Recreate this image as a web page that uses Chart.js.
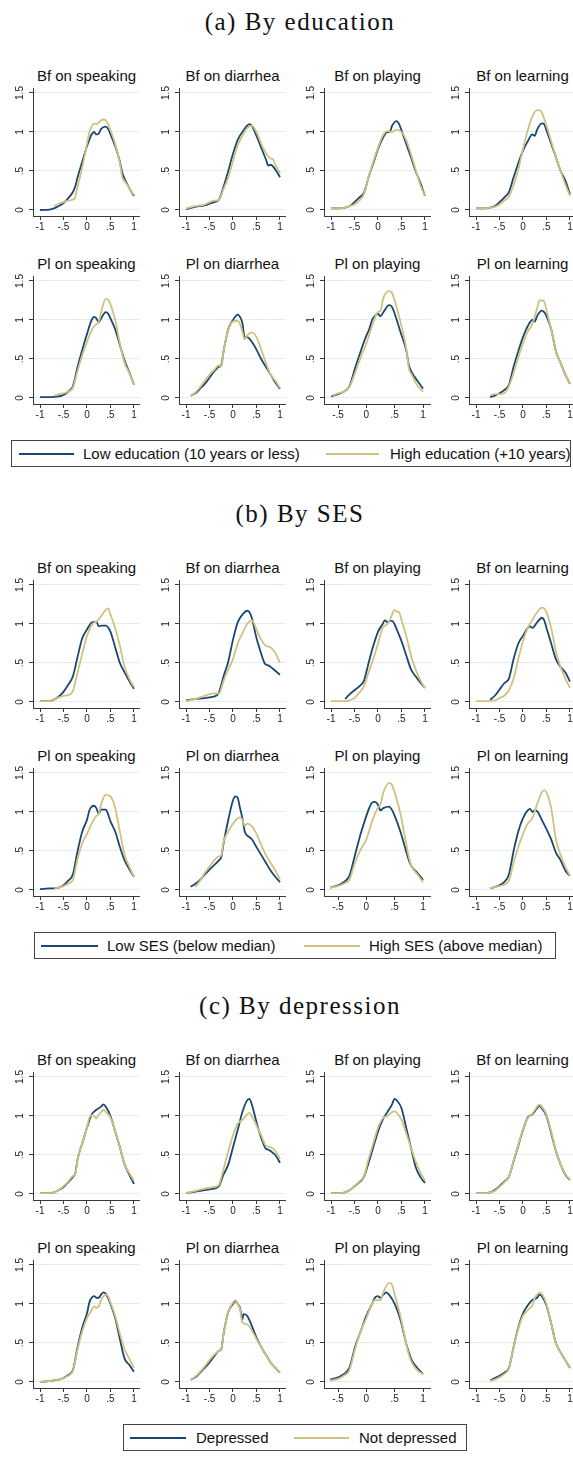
<!DOCTYPE html>
<html>
<head>
<meta charset="utf-8">
<script src="https://cdn.jsdelivr.net/npm/chart.js@4.4.0/dist/chart.umd.min.js"></script>
<style>
  html, body { margin: 0; padding: 0; background: #fff; }
  body { position: relative; width: 573px; height: 1477px; overflow: hidden; font-family: "Liberation Sans", Arial, sans-serif; }
  .sec-title { position: absolute; left: 0; width: 600px; text-align: center; font-family: "Liberation Serif", serif; font-size: 25px; line-height: 26px; letter-spacing: 1.5px; color: #111; }
  .sub-title { position: absolute; width: 107px; text-align: center; font-size: 15px; line-height: 16px; color: #111; white-space: nowrap; }
  canvas.sub { position: absolute; }
  .legend { position: absolute; height: 27px; border: 1px solid #444; box-sizing: border-box; background: #fff; }
  .legend .ln { position: absolute; top: 12px; height: 2px; }
  .legend .tx { position: absolute; top: 4px; font-size: 15px; line-height: 17px; color: #111; white-space: nowrap; }
</style>
</head>
<body>
<script>
// ---- data ----
const panelTitles = ["(a) By education", "(b) By SES", "(c) By depression"];
const outcomes = ["Bf on speaking", "Bf on diarrhea", "Bf on playing", "Bf on learning",
                  "Pl on speaking", "Pl on diarrhea", "Pl on playing", "Pl on learning"];
const legendLabels = [
  ["Low education (10 years or less)", "High education (+10 years)"],
  ["Low SES (below median)", "High SES (above median)"],
  ["Depressed", "Not depressed"]
];
const xTicksFull = [-1, -0.5, 0, 0.5, 1];
const xTicksShort = [-0.5, 0, 0.5, 1];
const xTickSets = [xTicksFull, xTicksFull, xTicksFull, xTicksFull, xTicksFull, xTicksFull, xTicksShort, xTicksFull];
const yTicks = [0, 0.5, 1, 1.5];

const eduLow = [
  [[-1,0],[-0.8,0.005],[-0.7,0.02],[-0.6,0.05],[-0.5,0.09],[-0.4,0.15],[-0.3,0.23],[-0.25,0.3],[-0.2,0.42],[-0.1,0.62],[0,0.82],[0.05,0.9],[0.1,0.97],[0.15,1.0],[0.2,0.97],[0.25,0.98],[0.3,1.04],[0.4,1.07],[0.45,1.04],[0.5,0.97],[0.6,0.82],[0.7,0.62],[0.75,0.48],[0.8,0.4],[0.9,0.28],[1,0.18]],
  [[-1,0.01],[-0.8,0.04],[-0.6,0.06],[-0.5,0.08],[-0.4,0.1],[-0.3,0.13],[-0.2,0.3],[-0.1,0.5],[0,0.72],[0.1,0.9],[0.2,1.0],[0.3,1.08],[0.35,1.1],[0.4,1.08],[0.5,0.95],[0.6,0.8],[0.7,0.65],[0.75,0.57],[0.8,0.58],[0.9,0.52],[1,0.42]],
  [[-1,0.02],[-0.8,0.02],[-0.7,0.03],[-0.6,0.05],[-0.5,0.1],[-0.4,0.16],[-0.3,0.22],[-0.2,0.42],[-0.1,0.6],[0,0.78],[0.1,0.92],[0.2,1.0],[0.25,1.0],[0.3,1.08],[0.4,1.14],[0.45,1.1],[0.5,1.02],[0.6,0.85],[0.7,0.68],[0.8,0.5],[0.9,0.35],[1,0.18]],
  [[-1,0.02],[-0.8,0.02],[-0.7,0.03],[-0.6,0.05],[-0.5,0.1],[-0.4,0.16],[-0.3,0.23],[-0.2,0.42],[-0.1,0.6],[0,0.76],[0.1,0.88],[0.2,0.97],[0.25,0.95],[0.3,1.03],[0.4,1.11],[0.45,1.1],[0.5,1.02],[0.6,0.85],[0.7,0.68],[0.8,0.5],[0.9,0.38],[1,0.2]],
  [[-1,0.01],[-0.8,0.01],[-0.6,0.02],[-0.5,0.04],[-0.4,0.08],[-0.3,0.15],[-0.2,0.4],[-0.1,0.62],[0,0.82],[0.1,1.0],[0.15,1.04],[0.2,1.02],[0.25,0.97],[0.3,1.02],[0.4,1.1],[0.45,1.08],[0.5,1.02],[0.6,0.88],[0.7,0.68],[0.8,0.48],[0.9,0.33],[1,0.17]],
  [[-0.9,0.03],[-0.8,0.06],[-0.7,0.12],[-0.6,0.18],[-0.5,0.26],[-0.4,0.34],[-0.3,0.4],[-0.25,0.42],[-0.2,0.6],[-0.1,0.88],[0,1.0],[0.1,1.07],[0.15,1.04],[0.2,0.96],[0.25,0.78],[0.3,0.78],[0.4,0.72],[0.5,0.62],[0.6,0.5],[0.7,0.4],[0.8,0.3],[0.9,0.2],[1,0.12]],
  [[-0.62,0.02],[-0.5,0.05],[-0.4,0.08],[-0.3,0.15],[-0.2,0.38],[-0.1,0.6],[0,0.8],[0.05,0.88],[0.1,1.0],[0.15,1.05],[0.2,1.08],[0.25,1.05],[0.3,1.1],[0.4,1.19],[0.45,1.17],[0.5,1.08],[0.6,0.85],[0.7,0.62],[0.75,0.42],[0.8,0.33],[0.9,0.22],[1,0.12]],
  [[-0.7,0.01],[-0.6,0.03],[-0.5,0.06],[-0.4,0.1],[-0.3,0.17],[-0.2,0.4],[-0.1,0.6],[0,0.78],[0.1,0.92],[0.2,1.0],[0.25,0.98],[0.3,1.05],[0.4,1.12],[0.45,1.1],[0.5,1.05],[0.6,0.88],[0.7,0.6],[0.8,0.45],[0.9,0.3],[1,0.18]]
];
const eduHigh = [
  [[-0.7,0.05],[-0.6,0.08],[-0.5,0.1],[-0.4,0.12],[-0.27,0.14],[-0.2,0.3],[-0.1,0.55],[0,0.85],[0.05,1.0],[0.1,1.07],[0.15,1.11],[0.2,1.1],[0.25,1.12],[0.3,1.15],[0.35,1.16],[0.4,1.15],[0.45,1.1],[0.5,1.02],[0.6,0.85],[0.7,0.6],[0.75,0.42],[0.8,0.37],[0.9,0.28],[1,0.19]],
  [[-1,0.02],[-0.8,0.05],[-0.6,0.07],[-0.5,0.1],[-0.4,0.12],[-0.3,0.13],[-0.2,0.27],[-0.1,0.42],[0,0.63],[0.1,0.83],[0.2,0.95],[0.3,1.05],[0.4,1.08],[0.5,1.0],[0.6,0.85],[0.7,0.73],[0.8,0.66],[0.85,0.65],[0.9,0.58],[1,0.47]],
  [[-1,0.02],[-0.8,0.02],[-0.7,0.03],[-0.6,0.05],[-0.5,0.07],[-0.4,0.12],[-0.3,0.2],[-0.2,0.42],[-0.1,0.62],[0,0.8],[0.1,0.95],[0.2,1.01],[0.3,1.0],[0.4,1.03],[0.5,1.0],[0.6,0.9],[0.7,0.72],[0.8,0.52],[0.9,0.32],[1,0.18]],
  [[-1,0.02],[-0.8,0.02],[-0.7,0.03],[-0.6,0.04],[-0.5,0.07],[-0.4,0.12],[-0.3,0.17],[-0.2,0.32],[-0.1,0.52],[0,0.78],[0.1,1.02],[0.2,1.2],[0.3,1.28],[0.35,1.28],[0.4,1.25],[0.5,1.08],[0.6,0.88],[0.7,0.68],[0.8,0.5],[0.9,0.33],[1,0.18]],
  [[-0.7,0.03],[-0.6,0.05],[-0.5,0.06],[-0.4,0.08],[-0.3,0.13],[-0.2,0.35],[-0.1,0.55],[0,0.72],[0.1,0.87],[0.2,0.95],[0.25,0.97],[0.3,1.1],[0.4,1.27],[0.45,1.26],[0.5,1.2],[0.6,1.0],[0.7,0.7],[0.8,0.45],[0.9,0.32],[1,0.17]],
  [[-0.9,0.03],[-0.8,0.07],[-0.7,0.14],[-0.6,0.22],[-0.5,0.3],[-0.4,0.36],[-0.3,0.42],[-0.25,0.4],[-0.2,0.6],[-0.1,0.87],[0,0.98],[0.1,0.99],[0.15,0.95],[0.2,0.85],[0.25,0.75],[0.3,0.8],[0.4,0.84],[0.5,0.78],[0.6,0.62],[0.7,0.45],[0.8,0.3],[0.9,0.22],[1,0.13]],
  [[-0.6,0.03],[-0.5,0.06],[-0.4,0.08],[-0.3,0.14],[-0.2,0.32],[-0.1,0.52],[0,0.7],[0.1,0.92],[0.2,1.1],[0.25,1.12],[0.3,1.28],[0.4,1.37],[0.45,1.35],[0.5,1.25],[0.6,0.98],[0.7,0.65],[0.75,0.38],[0.8,0.3],[0.9,0.16],[1,0.08]],
  [[-0.7,0.03],[-0.6,0.05],[-0.5,0.05],[-0.4,0.06],[-0.3,0.15],[-0.2,0.32],[-0.1,0.52],[0,0.7],[0.1,0.85],[0.2,0.95],[0.3,1.15],[0.35,1.25],[0.4,1.25],[0.45,1.24],[0.5,1.12],[0.6,0.88],[0.7,0.6],[0.8,0.45],[0.9,0.3],[1,0.18]]
];
const sesLow = [
  [[-1,0.01],[-0.8,0.01],[-0.7,0.03],[-0.6,0.07],[-0.5,0.13],[-0.4,0.22],[-0.3,0.33],[-0.2,0.58],[-0.1,0.82],[0,0.93],[0.1,1.02],[0.2,1.03],[0.25,0.97],[0.3,0.98],[0.4,0.98],[0.5,0.9],[0.6,0.7],[0.7,0.5],[0.8,0.38],[0.9,0.27],[1,0.17]],
  [[-1,0.02],[-0.8,0.04],[-0.6,0.05],[-0.5,0.06],[-0.4,0.07],[-0.3,0.12],[-0.2,0.33],[-0.1,0.52],[0,0.8],[0.1,1.02],[0.2,1.12],[0.3,1.17],[0.35,1.15],[0.4,1.08],[0.5,0.82],[0.6,0.62],[0.67,0.5],[0.7,0.48],[0.75,0.47],[0.8,0.45],[0.9,0.4],[1,0.35]],
  [[-0.7,0.04],[-0.6,0.1],[-0.5,0.15],[-0.4,0.2],[-0.3,0.27],[-0.2,0.5],[-0.1,0.72],[0,0.9],[0.1,1.0],[0.15,1.05],[0.2,1.02],[0.25,1.04],[0.3,1.04],[0.35,1.0],[0.4,0.93],[0.5,0.78],[0.6,0.6],[0.7,0.42],[0.8,0.33],[0.9,0.25],[1,0.18]],
  [[-0.7,0.03],[-0.6,0.08],[-0.5,0.16],[-0.4,0.24],[-0.3,0.3],[-0.2,0.55],[-0.1,0.75],[0,0.85],[0.1,0.95],[0.15,0.97],[0.2,0.95],[0.3,1.02],[0.4,1.08],[0.45,1.05],[0.5,0.95],[0.6,0.75],[0.7,0.55],[0.8,0.45],[0.9,0.38],[1,0.26]],
  [[-1,0.01],[-0.8,0.02],[-0.7,0.02],[-0.6,0.03],[-0.5,0.06],[-0.4,0.12],[-0.3,0.2],[-0.2,0.5],[-0.1,0.75],[0,0.9],[0.05,1.02],[0.1,1.07],[0.15,1.08],[0.2,1.05],[0.25,0.98],[0.3,1.03],[0.4,1.03],[0.45,0.97],[0.5,0.88],[0.6,0.75],[0.7,0.55],[0.8,0.38],[0.9,0.27],[1,0.17]],
  [[-0.9,0.04],[-0.8,0.08],[-0.7,0.13],[-0.6,0.2],[-0.5,0.26],[-0.4,0.32],[-0.3,0.38],[-0.25,0.42],[-0.2,0.6],[-0.1,0.9],[0,1.15],[0.05,1.2],[0.1,1.18],[0.15,1.05],[0.2,0.92],[0.25,0.75],[0.3,0.7],[0.4,0.65],[0.5,0.55],[0.6,0.45],[0.7,0.35],[0.8,0.25],[0.9,0.17],[1,0.1]],
  [[-0.64,0.03],[-0.5,0.06],[-0.4,0.1],[-0.3,0.18],[-0.2,0.45],[-0.1,0.72],[0,0.95],[0.05,1.05],[0.1,1.12],[0.15,1.13],[0.2,1.1],[0.25,1.02],[0.3,1.05],[0.4,1.07],[0.45,1.03],[0.5,0.95],[0.6,0.75],[0.7,0.5],[0.75,0.38],[0.8,0.3],[0.9,0.22],[1,0.13]],
  [[-0.7,0.02],[-0.6,0.04],[-0.5,0.06],[-0.4,0.1],[-0.3,0.2],[-0.2,0.5],[-0.1,0.75],[0,0.92],[0.1,1.02],[0.15,1.04],[0.2,1.0],[0.25,1.02],[0.3,1.01],[0.4,0.9],[0.5,0.78],[0.6,0.65],[0.7,0.48],[0.8,0.38],[0.9,0.25],[1,0.18]]
];
const sesHigh = [
  [[-1,0.01],[-0.8,0.01],[-0.7,0.03],[-0.6,0.06],[-0.5,0.08],[-0.4,0.09],[-0.3,0.14],[-0.2,0.38],[-0.1,0.62],[0,0.85],[0.1,0.98],[0.15,1.02],[0.2,1.03],[0.3,1.1],[0.4,1.18],[0.45,1.2],[0.5,1.12],[0.6,0.95],[0.7,0.72],[0.8,0.45],[0.9,0.3],[1,0.19]],
  [[-1,0.01],[-0.8,0.04],[-0.6,0.08],[-0.5,0.1],[-0.4,0.11],[-0.3,0.11],[-0.2,0.27],[-0.1,0.42],[0,0.55],[0.1,0.75],[0.2,0.88],[0.3,1.0],[0.4,1.05],[0.5,0.93],[0.6,0.8],[0.7,0.72],[0.8,0.7],[0.9,0.63],[1,0.5]],
  [[-1,0.01],[-0.8,0.01],[-0.7,0.01],[-0.6,0.02],[-0.5,0.05],[-0.4,0.12],[-0.3,0.2],[-0.2,0.38],[-0.1,0.55],[0,0.75],[0.1,0.95],[0.2,1.0],[0.25,1.05],[0.3,1.12],[0.35,1.18],[0.4,1.16],[0.45,1.15],[0.5,1.05],[0.6,0.85],[0.7,0.6],[0.8,0.42],[0.9,0.28],[1,0.18]],
  [[-1,0.01],[-0.8,0.01],[-0.6,0.02],[-0.5,0.05],[-0.4,0.08],[-0.3,0.15],[-0.2,0.3],[-0.1,0.55],[0,0.78],[0.1,0.95],[0.2,1.05],[0.3,1.15],[0.4,1.21],[0.45,1.2],[0.5,1.15],[0.6,0.95],[0.7,0.65],[0.8,0.45],[0.9,0.3],[1,0.18]],
  [[-0.7,0.02],[-0.6,0.03],[-0.5,0.05],[-0.4,0.08],[-0.3,0.13],[-0.2,0.4],[-0.1,0.6],[0,0.72],[0.1,0.85],[0.2,0.95],[0.25,0.97],[0.3,1.1],[0.4,1.22],[0.5,1.2],[0.6,1.05],[0.7,0.75],[0.8,0.45],[0.9,0.3],[1,0.17]],
  [[-0.8,0.04],[-0.7,0.12],[-0.6,0.22],[-0.5,0.3],[-0.4,0.38],[-0.3,0.43],[-0.25,0.44],[-0.2,0.62],[-0.1,0.75],[0,0.85],[0.1,0.92],[0.15,0.93],[0.2,0.9],[0.25,0.82],[0.3,0.85],[0.4,0.82],[0.5,0.72],[0.6,0.58],[0.7,0.45],[0.8,0.35],[0.9,0.25],[1,0.14]],
  [[-0.64,0.03],[-0.5,0.05],[-0.4,0.08],[-0.3,0.13],[-0.2,0.35],[-0.1,0.52],[0,0.65],[0.1,0.88],[0.2,1.05],[0.25,1.1],[0.3,1.25],[0.4,1.37],[0.45,1.35],[0.5,1.25],[0.6,0.98],[0.7,0.6],[0.75,0.42],[0.8,0.3],[0.9,0.2],[1,0.1]],
  [[-0.7,0.02],[-0.6,0.04],[-0.5,0.05],[-0.4,0.07],[-0.3,0.12],[-0.2,0.35],[-0.1,0.55],[0,0.72],[0.1,0.85],[0.2,0.92],[0.3,1.1],[0.4,1.25],[0.45,1.28],[0.5,1.25],[0.6,1.05],[0.7,0.65],[0.8,0.45],[0.9,0.3],[1,0.18]]
];
const depYes = [
  [[-1,0.01],[-0.8,0.01],[-0.7,0.02],[-0.6,0.05],[-0.5,0.09],[-0.4,0.15],[-0.3,0.22],[-0.25,0.26],[-0.2,0.45],[-0.1,0.65],[0,0.85],[0.1,1.02],[0.2,1.08],[0.3,1.12],[0.35,1.15],[0.4,1.12],[0.5,1.0],[0.6,0.8],[0.7,0.6],[0.8,0.38],[0.9,0.25],[1,0.13]],
  [[-1,0.01],[-0.8,0.03],[-0.6,0.05],[-0.5,0.06],[-0.4,0.07],[-0.3,0.1],[-0.2,0.25],[-0.1,0.38],[0,0.6],[0.1,0.82],[0.2,1.05],[0.3,1.2],[0.35,1.22],[0.4,1.15],[0.5,0.92],[0.6,0.72],[0.7,0.58],[0.75,0.57],[0.8,0.55],[0.9,0.5],[1,0.4]],
  [[-1,0.01],[-0.8,0.01],[-0.7,0.02],[-0.6,0.05],[-0.5,0.1],[-0.4,0.15],[-0.3,0.22],[-0.2,0.4],[-0.1,0.6],[0,0.8],[0.1,0.95],[0.2,1.05],[0.3,1.15],[0.35,1.22],[0.4,1.2],[0.5,1.1],[0.6,0.85],[0.7,0.6],[0.8,0.35],[0.9,0.22],[1,0.14]],
  [[-1,0.01],[-0.8,0.01],[-0.7,0.02],[-0.6,0.05],[-0.5,0.1],[-0.4,0.16],[-0.3,0.22],[-0.2,0.42],[-0.1,0.62],[0,0.82],[0.1,0.98],[0.2,1.02],[0.3,1.1],[0.35,1.13],[0.4,1.1],[0.5,1.0],[0.6,0.78],[0.7,0.55],[0.8,0.38],[0.9,0.25],[1,0.18]],
  [[-1,0.0],[-0.8,0.01],[-0.7,0.02],[-0.6,0.03],[-0.5,0.05],[-0.4,0.09],[-0.3,0.15],[-0.2,0.45],[-0.1,0.7],[0,0.88],[0.05,1.02],[0.1,1.08],[0.15,1.1],[0.2,1.08],[0.25,1.08],[0.3,1.12],[0.35,1.15],[0.4,1.13],[0.5,1.0],[0.6,0.82],[0.7,0.55],[0.8,0.3],[0.9,0.22],[1,0.13]],
  [[-0.9,0.03],[-0.8,0.06],[-0.7,0.12],[-0.6,0.18],[-0.5,0.25],[-0.4,0.33],[-0.3,0.4],[-0.25,0.42],[-0.2,0.62],[-0.1,0.9],[0,1.0],[0.05,1.04],[0.1,1.0],[0.15,0.95],[0.2,0.8],[0.22,0.87],[0.3,0.85],[0.4,0.72],[0.5,0.57],[0.6,0.45],[0.7,0.35],[0.8,0.25],[0.9,0.18],[1,0.12]],
  [[-0.64,0.03],[-0.5,0.06],[-0.4,0.1],[-0.3,0.18],[-0.2,0.45],[-0.1,0.65],[0,0.85],[0.1,1.0],[0.15,1.08],[0.2,1.1],[0.25,1.08],[0.3,1.12],[0.35,1.15],[0.4,1.12],[0.5,1.0],[0.6,0.8],[0.7,0.5],[0.75,0.38],[0.8,0.28],[0.9,0.18],[1,0.1]],
  [[-0.7,0.02],[-0.6,0.05],[-0.5,0.08],[-0.4,0.12],[-0.3,0.18],[-0.2,0.45],[-0.1,0.7],[0,0.88],[0.1,0.98],[0.15,1.02],[0.2,1.05],[0.3,1.08],[0.35,1.12],[0.4,1.1],[0.5,0.98],[0.6,0.75],[0.7,0.5],[0.8,0.38],[0.9,0.28],[1,0.18]]
];
const depNo = [
  [[-1,0.01],[-0.8,0.01],[-0.7,0.02],[-0.6,0.05],[-0.5,0.1],[-0.4,0.16],[-0.3,0.23],[-0.25,0.25],[-0.2,0.45],[-0.1,0.65],[0,0.85],[0.05,0.98],[0.1,1.01],[0.15,1.0],[0.2,0.97],[0.25,1.02],[0.3,1.05],[0.35,1.08],[0.4,1.05],[0.5,0.98],[0.6,0.8],[0.7,0.6],[0.8,0.38],[0.9,0.27],[1,0.17]],
  [[-1,0.01],[-0.8,0.04],[-0.6,0.07],[-0.5,0.08],[-0.4,0.09],[-0.3,0.12],[-0.2,0.32],[-0.1,0.55],[0,0.75],[0.1,0.9],[0.15,0.93],[0.2,0.95],[0.3,1.02],[0.35,1.04],[0.4,1.0],[0.5,0.88],[0.6,0.75],[0.7,0.62],[0.8,0.6],[0.9,0.55],[1,0.45]],
  [[-1,0.01],[-0.8,0.01],[-0.7,0.02],[-0.6,0.05],[-0.5,0.1],[-0.4,0.16],[-0.3,0.23],[-0.2,0.45],[-0.1,0.65],[0,0.85],[0.1,0.97],[0.2,1.0],[0.3,1.05],[0.35,1.06],[0.4,1.04],[0.5,0.95],[0.6,0.78],[0.7,0.6],[0.8,0.42],[0.9,0.28],[1,0.17]],
  [[-1,0.01],[-0.8,0.01],[-0.7,0.02],[-0.6,0.04],[-0.5,0.09],[-0.4,0.15],[-0.3,0.22],[-0.2,0.43],[-0.1,0.63],[0,0.83],[0.1,0.97],[0.2,1.03],[0.3,1.12],[0.35,1.15],[0.4,1.12],[0.5,1.02],[0.6,0.8],[0.7,0.56],[0.8,0.38],[0.9,0.26],[1,0.18]],
  [[-1,0.0],[-0.8,0.01],[-0.7,0.02],[-0.6,0.03],[-0.5,0.05],[-0.4,0.08],[-0.3,0.14],[-0.2,0.42],[-0.1,0.65],[0,0.82],[0.1,0.92],[0.15,0.97],[0.2,0.95],[0.25,0.97],[0.3,1.05],[0.4,1.12],[0.45,1.1],[0.5,1.02],[0.6,0.85],[0.7,0.62],[0.8,0.42],[0.9,0.3],[1,0.18]],
  [[-0.9,0.03],[-0.8,0.07],[-0.7,0.13],[-0.6,0.2],[-0.5,0.28],[-0.4,0.35],[-0.3,0.4],[-0.25,0.42],[-0.2,0.62],[-0.1,0.9],[0,1.02],[0.05,1.05],[0.1,1.0],[0.15,0.93],[0.2,0.76],[0.3,0.74],[0.4,0.66],[0.5,0.55],[0.6,0.45],[0.7,0.35],[0.8,0.25],[0.9,0.18],[1,0.12]],
  [[-0.64,0.02],[-0.5,0.04],[-0.4,0.08],[-0.3,0.15],[-0.2,0.42],[-0.1,0.65],[0,0.82],[0.1,1.0],[0.15,1.05],[0.2,1.05],[0.25,1.05],[0.3,1.15],[0.4,1.27],[0.45,1.25],[0.5,1.12],[0.6,0.85],[0.7,0.5],[0.75,0.35],[0.8,0.25],[0.9,0.15],[1,0.1]],
  [[-0.7,0.01],[-0.6,0.03],[-0.5,0.06],[-0.4,0.1],[-0.3,0.17],[-0.2,0.45],[-0.1,0.68],[0,0.85],[0.1,0.92],[0.15,0.95],[0.2,0.98],[0.25,1.08],[0.3,1.12],[0.35,1.15],[0.4,1.13],[0.5,1.0],[0.6,0.75],[0.7,0.5],[0.8,0.38],[0.9,0.28],[1,0.18]]
];
const groups = [[eduLow, eduHigh], [sesLow, sesHigh], [depYes, depNo]];

// ---- layout / style ----
const NAVY = "rgb(26,71,111)";
const SAND = "rgb(207,194,129)";
const AXIS = "#3a3a3a";
const GRID = "#e4edef";
const sectionTop = [0, 492, 984];
const axisX = [33, 179, 324, 469];
const rowStep = 188;
const legendBoxes = [
  { left: 11, width: 560, items: [[7, 62, 71], [314, 367, 378]] },
  { left: 34, width: 522, items: [[6, 63, 72], [269, 325, 334]] },
  { left: 123, width: 344, items: [[6, 62, 72], [170, 225, 235]] }
];

function tickText(v) {
  if (v === 0) return "0";
  const s = String(Math.abs(v)).replace(/^0/, "");
  return (v < 0 ? "-" : "") + s;
}

function addDiv(cls, text, css) {
  const d = document.createElement("div");
  d.className = cls;
  if (text) d.textContent = text;
  Object.assign(d.style, css);
  document.body.appendChild(d);
  return d;
}

function drawSub(sec, i) {
  const row = Math.floor(i / 4), col = i % 4;
  const top = sectionTop[sec] + 80 + row * rowStep;
  const left = axisX[col] - 33;

  addDiv("sub-title", outcomes[i], { left: axisX[col] + "px", top: (sectionTop[sec] + 68 + row * rowStep) + "px" });

  const cv = document.createElement("canvas");
  cv.className = "sub";
  cv.width = 140; cv.height = 156;
  cv.style.left = left + "px"; cv.style.top = top + "px";
  cv.style.width = "140px"; cv.style.height = "156px";
  document.body.appendChild(cv);

  const xt = xTickSets[i];
  const xr = xt[0] === -1 ? [-1.149, 1.128] : [-0.747, 1.14];
  const [lowSet, highSet] = groups[sec];
  const toPts = arr => arr.map(p => ({ x: p[0], y: p[1] }));

  new Chart(cv, {
    type: "line",
    data: {
      datasets: [
        { data: toPts(lowSet[i]), borderColor: NAVY, borderWidth: 1.8, pointRadius: 0, cubicInterpolationMode: "monotone", order: 2 },
        { data: toPts(highSet[i]), borderColor: SAND, borderWidth: 1.8, pointRadius: 0, cubicInterpolationMode: "monotone", order: 1 }
      ]
    },
    options: {
      responsive: false,
      animation: false,
      events: [],
      layout: { padding: { top: 8, left: 0, right: 0, bottom: 0 } },
      plugins: { legend: { display: false }, tooltip: { enabled: false }, title: { display: false } },
      scales: {
        x: {
          type: "linear", min: xr[0], max: xr[1],
          afterBuildTicks: s => { s.ticks = xt.map(v => ({ value: v })); },
          afterFit: s => { s.height = 20; },
          grid: { drawOnChartArea: false, tickLength: 4, tickColor: AXIS },
          border: { color: AXIS, width: 1 },
          ticks: { autoSkip: false, maxRotation: 0, padding: 1, color: "#222",
                   font: { family: "Liberation Sans", size: 10 }, callback: v => tickText(v) }
        },
        y: {
          type: "linear", min: -0.077, max: 1.564,
          afterBuildTicks: s => { s.ticks = yTicks.map(v => ({ value: v })); },
          afterFit: s => { s.width = 33; },
          grid: { color: GRID, lineWidth: 1, tickLength: 4, tickColor: AXIS },
          border: { color: AXIS, width: 1 },
          ticks: { minRotation: 90, maxRotation: 90, crossAlign: "center", padding: 2, color: "#222",
                   font: { family: "Liberation Sans", size: 10 }, callback: v => tickText(v) }
        }
      }
    }
  });
}

function drawLegend(sec) {
  const lb = legendBoxes[sec];
  const box = addDiv("legend", "", { left: lb.left + "px", width: lb.width + "px", top: (sectionTop[sec] + 440) + "px" });
  lb.items.forEach((it, k) => {
    const ln = document.createElement("div");
    ln.className = "ln";
    Object.assign(ln.style, { left: it[0] + "px", width: (it[1] - it[0]) + "px", background: k === 0 ? NAVY : SAND });
    box.appendChild(ln);
    const tx = document.createElement("div");
    tx.className = "tx";
    tx.textContent = legendLabels[sec][k];
    tx.style.left = it[2] + "px";
    box.appendChild(tx);
  });
}

for (let sec = 0; sec < 3; sec++) {
  addDiv("sec-title", panelTitles[sec], { top: (sectionTop[sec] + 9) + "px" });
  for (let i = 0; i < 8; i++) drawSub(sec, i);
  drawLegend(sec);
}
</script>
</body>
</html>
